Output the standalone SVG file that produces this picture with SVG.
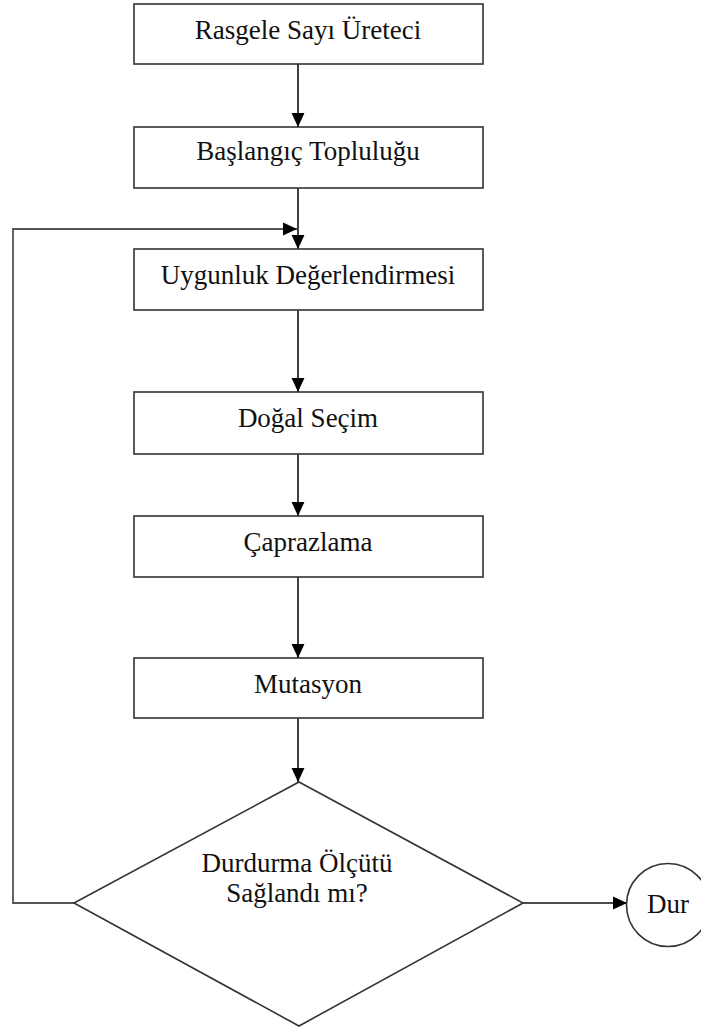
<svg xmlns="http://www.w3.org/2000/svg" width="701" height="1030" viewBox="0 0 701 1030">
<style>
.box{fill:#fff;stroke:#333;stroke-width:1.6}
.lbl{font-family:"Liberation Serif","Times New Roman",serif;font-size:27px;fill:#111;text-anchor:middle}
.con{fill:none;stroke:#111;stroke-width:1.6}
.loop{fill:none;stroke:#555;stroke-width:1.8}
</style>
<defs>
<marker id="ah" markerUnits="userSpaceOnUse" markerWidth="14" markerHeight="14" viewBox="0 0 13 12" refX="13" refY="6" orient="auto">
<path d="M0,0 L13,6 L0,12 Z" fill="#000"/>
</marker>
</defs>
<rect width="701" height="1030" fill="#fff"/>
<g id="connectors">
<line class="con" x1="298" y1="64" x2="298" y2="127" marker-end="url(#ah)"/>
<line class="con" x1="298" y1="188" x2="298" y2="249" marker-end="url(#ah)"/>
<line class="con" x1="298" y1="310" x2="298" y2="392" marker-end="url(#ah)"/>
<line class="con" x1="298" y1="454" x2="298" y2="516" marker-end="url(#ah)"/>
<line class="con" x1="298" y1="577" x2="298" y2="658" marker-end="url(#ah)"/>
<line class="con" x1="298" y1="718" x2="298" y2="782" marker-end="url(#ah)"/>
<polyline class="loop" points="74,903 13,903 13,229 297,229" marker-end="url(#ah)"/>
<line class="con" x1="523" y1="903" x2="627" y2="903" marker-end="url(#ah)"/>
</g>
<g id="n1"><rect class="box" x="134" y="4" width="349" height="60"/><text class="lbl" x="308" y="39">Rasgele Sayı Üreteci</text></g>
<g id="n2"><rect class="box" x="134" y="127" width="349" height="61"/><text class="lbl" x="308" y="160">Başlangıç Topluluğu</text></g>
<g id="n3"><rect class="box" x="134" y="249" width="349" height="61"/><text class="lbl" x="308" y="284">Uygunluk Değerlendirmesi</text></g>
<g id="n4"><rect class="box" x="134" y="392" width="349" height="62"/><text class="lbl" x="308" y="427">Doğal Seçim</text></g>
<g id="n5"><rect class="box" x="134" y="516" width="349" height="61"/><text class="lbl" x="308" y="551">Çaprazlama</text></g>
<g id="n6"><rect class="box" x="134" y="658" width="349" height="60"/><text class="lbl" x="308" y="693">Mutasyon</text></g>
<g id="n7"><polygon class="box" points="299,782 523,903 299,1026 74,903"/><text class="lbl" x="297" y="872">Durdurma Ölçütü</text><text class="lbl" x="297" y="902">Sağlandı mı?</text></g>
<g id="n8"><circle class="box" cx="668" cy="905" r="41.5"/><text class="lbl" x="668" y="913">Dur</text></g>
</svg>
